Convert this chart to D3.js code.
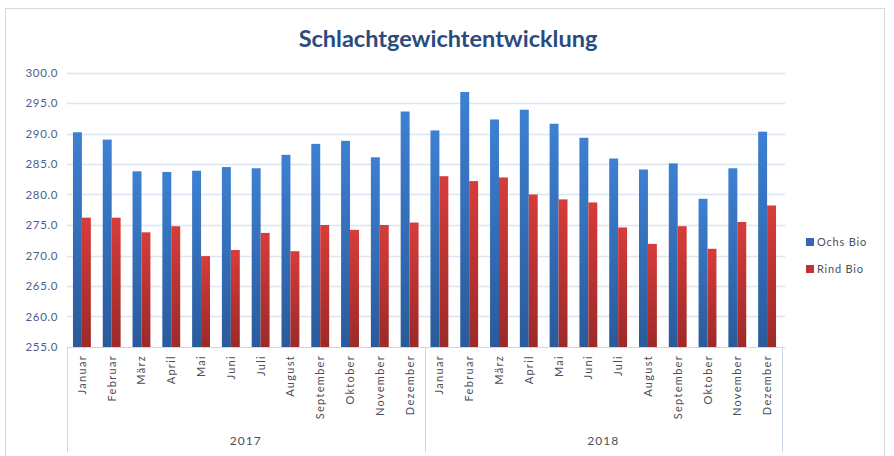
<!DOCTYPE html>
<html><head><meta charset="utf-8">
<script src="https://cdn.jsdelivr.net/npm/d3@7"></script>
<style>body{margin:0;background:#fff}svg{display:block}</style>
</head><body>
<svg id="c" width="894" height="456"></svg>
<script>
const months = ["Januar","Februar","März","April","Mai","Juni","Juli","August","September","Oktober","November","Dezember"];
const years = ["2017","2018"];
const ochsBio = [290.2,289.0,283.8,283.7,283.9,284.5,284.3,286.5,288.3,288.8,286.1,293.6,
                 290.5,296.8,292.3,293.9,291.6,289.3,285.9,284.1,285.1,279.3,284.3,290.3];
const rindBio = [276.2,276.2,273.8,274.8,269.9,270.9,273.7,270.7,275.0,274.2,275.0,275.4,
                 283.0,282.2,282.8,280.0,279.2,278.7,274.6,271.9,274.8,271.1,275.5,278.2];
const yTicks = [255,260,265,270,275,280,285,290,295,300];
const seriesNames = ["Ochs Bio","Rind Bio"];

const svg = d3.select("#c");
const defs = svg.append("defs");
function grad(id, top, bottom){
  const g = defs.append("linearGradient").attr("id",id).attr("x1",0).attr("y1",0).attr("x2",0).attr("y2",1);
  g.append("stop").attr("offset","0%").attr("stop-color",top);
  g.append("stop").attr("offset","100%").attr("stop-color",bottom);
}
grad("gBlue","#3D80D2","#2A5A9B");
grad("gRed","#D73C3A","#9C2A28");
const fills = ["url(#gBlue)","url(#gRed)"];
const legendColors = ["#3567B4","#C0312F"];
const FONT = "Lato, 'Open Sans', sans-serif";

// outer border
svg.append("rect").attr("x",5.5).attr("y",8.5).attr("width",879).attr("height",460)
  .attr("fill","#fff").attr("stroke","#D9D9D9");

const L = 67, R = 782, T = 72.5, B = 347;
const cats = d3.range(ochsBio.length);
const x = d3.scaleBand().domain(cats).range([L,R]).paddingInner(0.4).paddingOuter(0.2);
const y = d3.scaleLinear().domain([255,300]).range([B,T]);

// gridlines
svg.append("g").selectAll("line").data(yTicks.slice(1)).join("line")
  .attr("x1",L).attr("x2",785).attr("y1",d=>Math.round(y(d))+0.5).attr("y2",d=>Math.round(y(d))+0.5)
  .attr("stroke","#DCE6F2").attr("stroke-width",1.5);

// y axis labels
const yAxis = d3.axisLeft(y).tickValues(yTicks).tickFormat(d3.format(".1f")).tickSize(0).tickPadding(9);
const ya = svg.append("g").attr("transform",`translate(${L},0)`).call(yAxis);
ya.select(".domain").remove();
ya.selectAll("text").attr("fill","#4A5F8C").attr("font-family",FONT).attr("font-size",11.5)
  .attr("letter-spacing","0.6px");

// bars
const bw = x.bandwidth()/2;
const series = [ochsBio, rindBio];
series.forEach((vals,si)=>{
  svg.append("g").selectAll("rect").data(vals).join("rect")
    .attr("x",(d,i)=>x(i)+si*bw).attr("width",bw)
    .attr("y",d=>y(d)).attr("height",d=>B-y(d))
    .attr("fill",fills[si]);
});

// x axis line
svg.append("line").attr("x1",L).attr("x2",785).attr("y1",B+0.5).attr("y2",B+0.5).attr("stroke","#CBD6E8");

// month labels
svg.append("g").selectAll("text").data(cats).join("text")
  .attr("transform",i=>`translate(${x(i)+x.bandwidth()/2+4},${B+8}) rotate(-90)`)
  .attr("text-anchor","end")
  .attr("fill","#4A4F5A").attr("font-family",FONT).attr("font-size",11)
  .attr("letter-spacing","1.3px")
  .text(i=>months[i%12]);

// year separators and labels
const sep2 = [L, (x(11)+x.bandwidth()+x(12))/2, R];
svg.append("g").selectAll("line").data(sep2).join("line")
  .attr("x1",d=>Math.round(d)+0.5).attr("x2",d=>Math.round(d)+0.5).attr("y1",B).attr("y2",452)
  .attr("stroke","#CBD6E8");
svg.append("g").selectAll("text").data(years).join("text")
  .attr("x",(d,i)=>(sep2[i]+sep2[i+1])/2).attr("y",445)
  .attr("text-anchor","middle").attr("fill","#4A4F5A")
  .attr("font-family",FONT).attr("font-size",12).attr("letter-spacing","1px").text(d=>d);

// title
svg.append("text").attr("x",448).attr("y",47).attr("text-anchor","middle")
  .attr("font-family",FONT).attr("font-weight","bold").attr("font-size",23.5)
  .attr("fill","#2B4A7E").text("Schlachtgewichtentwicklung");

// legend
const lg = svg.append("g").selectAll("g").data(seriesNames).join("g")
  .attr("transform",(d,i)=>`translate(806,${238+i*27})`);
lg.append("rect").attr("width",8).attr("height",8).attr("fill",(d,i)=>legendColors[i]);
lg.append("text").attr("x",11).attr("y",8).attr("fill","#4A4F5A")
  .attr("font-family",FONT).attr("font-size",11).attr("letter-spacing","0.8px").text(d=>d);
</script>
</body></html>
